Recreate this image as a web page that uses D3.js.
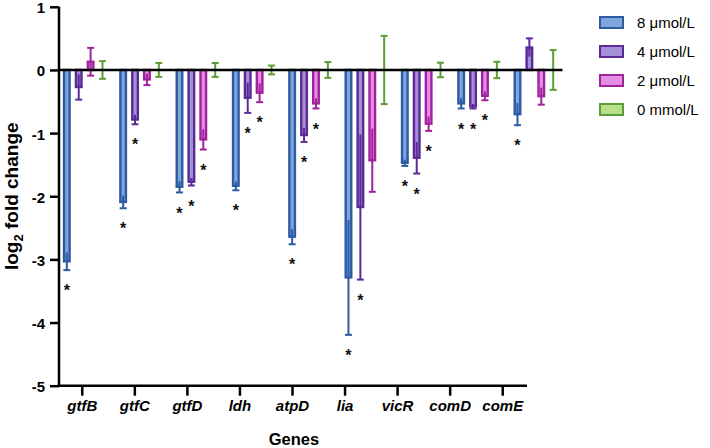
<!DOCTYPE html>
<html>
<head>
<meta charset="utf-8">
<script src="https://cdn.jsdelivr.net/npm/d3@7"></script>
<style>
  html, body { margin: 0; padding: 0; background: #fff; }
  svg { display: block; }
  text { font-family: "Liberation Sans", Arial, Helvetica, sans-serif; }
</style>
</head>
<body>
<svg id="chart" width="710" height="448"></svg>
<script>
// ---------------- data ----------------
const genes = ["gtfB", "gtfC", "gtfD", "ldh", "atpD", "lia", "vicR", "comD", "comE"];
const series = ["8 μmol/L", "4 μmol/L", "2 μmol/L", "0 mmol/L"];

const mean8 = [-3.03, -2.09, -1.85, -1.835, -2.64, -3.285, -1.47, -0.53, -0.70];
const sd8   = [0.14, 0.10, 0.09, 0.07, 0.12, 0.91, 0.05, 0.08, 0.175];
const mean4 = [-0.27, -0.785, -1.77, -0.44, -1.03, -2.17, -1.39, -0.575, 0.355];
const sd4   = [0.20, 0.075, 0.06, 0.24, 0.11, 1.15, 0.25, 0.035, 0.145];
const mean2 = [0.13, -0.15, -1.10, -0.36, -0.53, -1.43, -0.85, -0.41, -0.415];
const sd2   = [0.22, 0.09, 0.16, 0.15, 0.08, 0.50, 0.115, 0.07, 0.135];
const mean0 = [0, 0, 0, 0, 0, 0, 0, 0, 0];
const sd0   = [0.14, 0.11, 0.11, 0.07, 0.125, 0.54, 0.115, 0.13, 0.315];

// significance marks (1 = "*")
const sig8 = [1, 1, 1, 1, 1, 1, 1, 1, 1];
const sig4 = [0, 1, 1, 1, 1, 1, 1, 1, 0];
const sig2 = [0, 0, 1, 1, 1, 0, 1, 1, 0];
const sig0 = [0, 0, 0, 0, 0, 0, 0, 0, 0];

const yTicks = [1, 0, -1, -2, -3, -4, -5];

// ---------------- styles ----------------
const strokeCol = ["#2d5ba3", "#5a2b97", "#a0229c", "#5c9e33"];
const fillCol   = ["#7fa5dc", "#a48fd8", "#e68ee4", "#b9df8f"];

const means = [mean8, mean4, mean2, mean0];
const sds   = [sd8, sd4, sd2, sd0];
const sigs  = [sig8, sig4, sig2, sig0];

const rows = [];
genes.forEach((g, gi) => {
  series.forEach((s, si) => {
    rows.push({ gene: g, series: s, si, mean: means[si][gi], sd: sds[si][gi], sig: sigs[si][gi] });
  });
});

const svg = d3.select("#chart");

// ---------------- scales ----------------
const y = d3.scaleLinear().domain([-5, 1]).range([385.7, 6.8]);
const xBars = d3.scaleBand().domain(genes).range([56.5, 563.5]).padding(0);
const x1 = d3.scaleBand().domain(series).range([-23.8, 23.8]).paddingInner(0.33).paddingOuter(0.165);
const xAxisScale = d3.scaleBand().domain(genes).range([56, 529]).padding(0);

const axisX = 59;
const barCenter = d => xBars(d.gene) + xBars.bandwidth() / 2 + x1(d.series) + x1.bandwidth() / 2;
const sw = 2.4;

// ---------------- bars ----------------
const barG = svg.append("g");
barG.selectAll("rect")
  .data(rows.filter(d => d.mean !== 0))
  .join("rect")
  .attr("x", d => barCenter(d) - x1.bandwidth() / 2 + sw / 2)
  .attr("width", x1.bandwidth() - sw)
  .attr("y", d => y(Math.max(0, d.mean)))
  .attr("height", d => Math.abs(y(d.mean) - y(0)))
  .attr("fill", d => fillCol[d.si])
  .attr("stroke", d => strokeCol[d.si])
  .attr("stroke-width", sw);

// ---------------- error bars ----------------
const errG = svg.append("g");
rows.forEach(d => {
  const cx = barCenter(d);
  const lo = d.mean - d.sd, hi = d.mean + d.sd;
  const bMin = Math.min(0, d.mean), bMax = Math.max(0, d.mean);
  errG.append("line")
    .attr("x1", cx).attr("x2", cx)
    .attr("y1", y(hi)).attr("y2", y(lo))
    .attr("stroke", strokeCol[d.si]).attr("stroke-width", 2);
  const capW = x1.bandwidth() - 1;
  [lo, hi].forEach(v => {
    const outside = d.mean === 0 || v < bMin - 1e-9 || v > bMax + 1e-9;
    if (outside) {
      errG.append("line")
        .attr("x1", cx - capW / 2).attr("x2", cx + capW / 2)
        .attr("y1", y(v)).attr("y2", y(v))
        .attr("stroke", strokeCol[d.si]).attr("stroke-width", 2);
    }
  });
});

// ---------------- zero line ----------------
svg.append("line")
  .attr("x1", axisX).attr("x2", xBars.range()[1] - 1)
  .attr("y1", y(0)).attr("y2", y(0))
  .attr("stroke", "#000").attr("stroke-width", 2.5);

// ---------------- significance stars ----------------
svg.append("g").selectAll("text")
  .data(rows.filter(d => d.sig))
  .join("text")
  .attr("x", d => barCenter(d))
  .attr("y", d => y(d.mean - d.sd) + 17 + 9.2)
  .attr("text-anchor", "middle")
  .attr("font-size", 16)
  .attr("font-weight", "bold")
  .attr("fill", "#111")
  .text("*");

// ---------------- axes ----------------
const yAxis = svg.append("g")
  .attr("transform", `translate(${axisX},0)`)
  .call(d3.axisLeft(y).tickValues(yTicks).tickSize(9).tickPadding(5).tickFormat(d => String(d)));
yAxis.select(".domain").attr("d", `M0,${y(1)}V${y(-5)}`).attr("stroke-width", 2.5);
yAxis.selectAll(".tick line").attr("stroke-width", 2.5);
yAxis.selectAll(".tick text")
  .attr("font-size", 15).attr("font-weight", "bold").attr("fill", "#000")
  .attr("dy", "0.4em")
  .style("font-family", "'Liberation Sans', Arial, sans-serif");

const xAxis = svg.append("g")
  .attr("transform", `translate(0,${y(-5)})`)
  .call(d3.axisBottom(xAxisScale).tickSize(10).tickPadding(5));
xAxis.select(".domain").attr("d", `M${axisX - 1.2},0H${xAxisScale.range()[1] - 2}`).attr("stroke-width", 2.5);
xAxis.selectAll(".tick line").attr("stroke-width", 2.5);
xAxis.selectAll(".tick text")
  .attr("font-size", 15).attr("font-weight", "bold").attr("font-style", "italic").attr("fill", "#000")
  .style("font-family", "'Liberation Sans', Arial, sans-serif");

// axis titles
const yTitle = svg.append("text")
  .attr("transform", `translate(18,${(y(1) + y(-5)) / 2}) rotate(-90)`)
  .attr("text-anchor", "middle")
  .attr("font-size", 19).attr("font-weight", "bold").attr("fill", "#000");
yTitle.append("tspan").text("log");
yTitle.append("tspan").attr("font-size", 13).attr("dy", 5).text("2");
yTitle.append("tspan").attr("dy", -5).text(" fold change");

svg.append("text")
  .attr("x", (axisX + xAxisScale.range()[1]) / 2)
  .attr("y", 445)
  .attr("text-anchor", "middle")
  .attr("font-size", 16.5).attr("font-weight", "bold").attr("fill", "#000")
  .text("Genes");

// ---------------- legend ----------------
const leg = svg.append("g");
series.forEach((s, i) => {
  const top = 17 + i * 29;
  leg.append("rect")
    .attr("x", 600).attr("y", top)
    .attr("width", 23).attr("height", 11)
    .attr("fill", fillCol[i]).attr("stroke", strokeCol[i]).attr("stroke-width", 2);
  leg.append("text")
    .attr("x", 637).attr("y", top + 5.5)
    .attr("dominant-baseline", "central")
    .attr("font-size", 15).attr("fill", "#000")
    .text(s);
});
</script>
</body>
</html>
